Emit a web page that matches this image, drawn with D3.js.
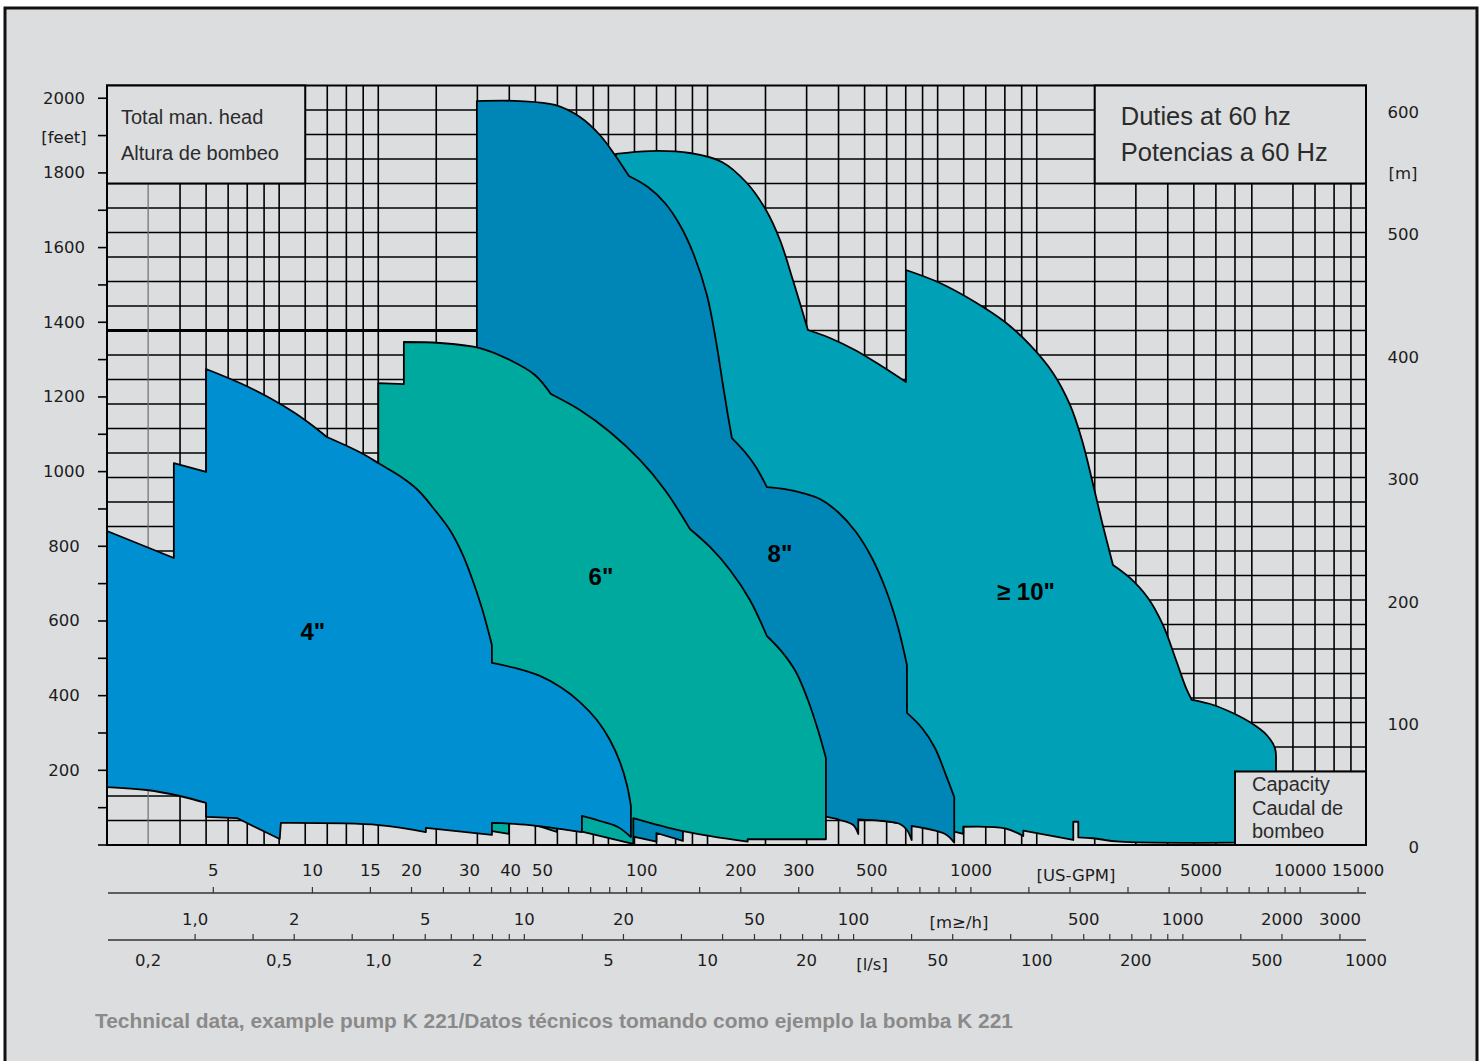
<!DOCTYPE html>
<html><head><meta charset="utf-8">
<script src="https://cdn.jsdelivr.net/npm/d3@7"></script>
<style>html,body{margin:0;padding:0;background:#fff;}svg{display:block;}</style>
</head><body>
<svg id="chart" width="1484" height="1061"></svg>
<script>
// ================= DATA =================
// flow in l/s, head in m (grid of the original chart)
const headGridM = d3.range(20, 601, 20);
const flowGridLs = [0.25,0.3,0.35,0.4,0.45,0.5,0.6,0.7,0.8,0.9,1,1.5,2,2.5,3,3.5,4,4.5,5,6,7,8,9,10,
  15,20,25,30,35,40,45,50,60,70,80,90,100,150,200,250,300,350,400,450,600,700,800,900];
const flowGridThin = [0.2];

const feetTicks = d3.range(0, 2001, 100);
const feetLabels = [2000,1800,1600,1400,1200,1000,800,600,400,200];
const meterLabels = [600,500,400,300,200,100,0];

const gpmTicks = [5,10,15,20,25,30,35,40,45,50,60,70,80,90,100,150,200,300,400,500,600,700,800,900,
  1000,1500,2000,3000,4000,5000,6000,7000,8000,9000,10000,15000];
const gpmLabels = [5,10,15,20,30,40,50,100,200,300,500,1000,5000,10000,15000];
const m3hTicks = [1,1.5,2,3,4,5,6,7,8,9,10,15,20,30,40,50,60,70,80,90,100,150,200,300,400,500,600,700,800,900,1000,1500,2000,3000];
const m3hLabels = [1,2,5,10,20,50,100,500,1000,2000,3000];
const m3hLabelText = ["1,0","2","5","10","20","50","100","500","1000","2000","3000"];
const lsLabels = [0.2,0.5,1,2,5,10,20,50,100,200,500,1000];
const lsLabelText = ["0,2","0,5","1,0","2","5","10","20","50","100","200","500","1000"];

// duty fields: outline points [flow l/s, head m, corner flag]
const pump4 = [[0.15,256.3,1],[0.2394,234.3,1],[0.2394,311.8,1],[0.30,304.5,1],[0.30,388.6,1],[0.380,377.1],[0.4685,364.9],
 [0.558,352.7],[0.628,342.9],[0.698,333.1,1],[0.792,326.5],[0.911,318.4],[1.011,311.0],[1.163,301.2],[1.319,289.8],
 [1.485,273.5],[1.650,257.1],[1.795,238.4],[1.924,218.0],[2.064,193.5],[2.214,163.3,1],[2.214,148.6,1],[2.600,144.5],
 [3.097,138.0],[3.612,128.2],[4.097,116.7],[4.613,102.0],[5.053,85.7],[5.420,67.8],[5.692,49.0],[5.853,31.8,1],
 [5.853,6.5,1],[5.344,14.7],[4.710,19.6],[4.155,23.7,1],[4.155,10.6,1],[2.887,16.3],[2.214,18.0,1],[2.214,8.2,1],
 [1.395,13.9,1],[1.395,10.6,1],[1.004,16.3],[0.506,18.0,1],[0.502,4.9,1],[0.372,22.0,1],[0.30,22.9,1],[0.30,34.3,1],
 [0.2496,40.0],[0.1982,44.9],[0.15,47.3,1]];
const pump6 = [[1.0,377.1,1],[1.196,376.3,1],[1.196,410.6,1],[1.539,409.8],[2.035,405.7],[2.511,395.9],[2.990,383.7],
 [3.345,368.2,1],[4.097,355.1],[5.053,337.1],[6.232,314.3],[7.424,289.8],[8.842,258.0,1],[10.17,243.3],[11.70,224.5],
 [13.45,200.0],[15.15,170.6,1],[16.83,157.6],[18.56,141.2],[20.18,118.4],[21.65,93.9],[22.89,71.0,1],[22.89,4.7,1],
 [13.24,4.7,1],[13.24,2.7,1],[8.42,11.4],[5.952,22.0,1],[5.952,1.4,1],[5.853,1.4,1],[4.155,10.9,1],[3.487,13.9,1],[3.487,10.6,1],
 [2.969,16.3],[2.493,18.0,1],[2.493,9.0,1],[2.214,11.4,1],[1.0,26.9,1]];
const pump8 = [[1.993,607.3,1],[2.692,607.3],[3.439,604.1],[4.097,594.3],[4.710,579.6],[5.232,563.3],[5.772,546.1,1],
 [6.592,537.1],[7.424,524.1],[8.244,506.1],[9.094,481.6],[9.958,449.0],[10.60,412.2],[11.14,375.5],[11.53,351.0],
 [11.86,332.2,1],[12.99,320.8],[14.03,308.6],[15.15,292.2,1],[17.19,290.6],[19.49,287.3],[21.95,282.4],[24.90,271.8],
 [28.24,255.5],[31.58,234.3],[34.84,208.2],[37.88,178.0],[40.34,146.9,1],[40.34,107.8,1],[44.80,95.5],[49.07,79.2],
 [52.99,57.1],[56.16,39.2,1],[56.16,1.9,1],[53.25,8.2],[48.39,12.2],[41.69,15.5,1],[41.69,4.1,1],[40.34,12.2],[38.41,17.1],
 [34.18,19.6],[28.70,21.0,1],[28.70,9.0,1],[27.71,16.3],[25.25,20.4],[22.89,23.1,1],[13.17,10.6,1],[8.42,15.5,1],[8.42,3.3,1],
 [6.995,9.8,1],[6.995,2.7,1],[5.952,6.8,1],[1.993,44.9,1]];
const pump10 = [[5.269,564.1,1],[6.683,566.5],[8.842,564.9],[11.06,557.6],[13.17,540.4],[15.05,518.4],[16.60,493.9],
 [18.17,461.2],[20.18,420.4,1],[23.54,413.9],[28.04,404.1],[33.40,391.8],[40.07,378.0,1],[40.07,469.4,1],[50.82,458.8],
 [64.91,443.3],[80.09,426.9],[95.35,408.2],[112.0,385.3],[126.2,359.2],[137.2,330.6],[147.2,298.0],[157.8,263.7],
 [170.4,228.6,1],[191.9,218.0],[217.7,201.6],[241.7,179.6],[264.8,151.0],[284.0,128.2],[295.6,118.4,1],[343.8,114.3],
 [395.4,107.5],[449.6,99.3],[499.2,89.8],[529.2,78.9],[532.9,69.4,1],[532.9,2.4,1],[178.9,2.7],[148.2,5.5],[133.7,6.3,1],
 [133.7,19.0,1],[129.1,19.0,1],[129.1,4.1,1],[91.0,11.7,1],[91.0,7.3,1],[80.09,13.6],[59.80,14.9,1],[59.80,9.0,1],[56.16,10.9,1],
 [22.89,26.9,1],[5.269,200,1]];

const fieldNames = ['≥ 10"', '8"', '6"', '4"'];
const fieldLabelFlow = [92.7, 16.6, 4.745, 0.633];
const fieldLabelHead = [207.3, 237.6, 218.8, 173.9];
const fieldColors = ['#00a0b6', '#0086b6', '#00a99d', '#008fd0'];

// ================= DRAW =================
const W = 1484, H = 1061, BG = '#dcdddf';
const svg = d3.select('#chart');
svg.append('rect').attr('width', W).attr('height', H).attr('fill', '#fff');
svg.append('rect').attr('x', 5).attr('y', 8).attr('width', 1472).attr('height', H + 10)
  .attr('fill', BG).attr('stroke', '#111').attr('stroke-width', 3);

const x = d3.scaleLog().domain([0.15, 1000]).range([107, 1366]);
const y = d3.scaleLinear().domain([0, 620]).range([845, 85.5]);
const yFt = ft => y(ft * 0.3048);
const xGpm = g => x(g / 15.85);
const xM3h = m => x(m / 3.6);

// grid
const grid = svg.append('g');
grid.selectAll('line.h').data(headGridM).join('line').attr('class', 'h')
  .attr('x1', x(0.15)).attr('x2', x(1000)).attr('y1', d => y(d)).attr('y2', d => y(d))
  .attr('stroke', '#000').attr('stroke-width', 1.6);
grid.append('line').attr('x1', x(0.15)).attr('x2', x(2)).attr('y1', y(420)).attr('y2', y(420))
  .attr('stroke', '#000').attr('stroke-width', 2.8);
grid.selectAll('line.v').data(flowGridLs).join('line').attr('class', 'v')
  .attr('x1', d => x(d)).attr('x2', d => x(d)).attr('y1', y(620)).attr('y2', y(0))
  .attr('stroke', '#000').attr('stroke-width', 1.6);
grid.selectAll('line.t').data(flowGridThin).join('line').attr('class', 't')
  .attr('x1', d => x(d)).attr('x2', d => x(d)).attr('y1', y(620)).attr('y2', y(0))
  .attr('stroke', '#6d6d6d').attr('stroke-width', 1.2);

// duty fields: smooth runs between corner points
const smooth = d3.line().x(d => x(d[0])).y(d => y(d[1])).curve(d3.curveCatmullRom.alpha(0.5));
function fieldPath(pts) {
  const runs = []; let cur = [pts[0]];
  for (let i = 1; i < pts.length; i++) {
    cur.push(pts[i]);
    if (pts[i][2] === 1) { runs.push(cur); cur = [pts[i]]; }
  }
  if (cur.length > 1) runs.push(cur);
  return runs.map((r, i) => {
    const s = smooth(r);
    return i === 0 ? s : s.replace(/^M[^A-Za-z]*/, '');
  }).join('') + 'Z';
}
const fields = [pump10, pump8, pump6, pump4];
svg.append('g').selectAll('path').data(fields).join('path')
  .attr('d', d => fieldPath(d))
  .attr('fill', (d, i) => fieldColors[i])
  .attr('stroke', '#000').attr('stroke-width', 1.8).attr('stroke-linejoin', 'round');

// plot frame
svg.append('rect').attr('x', x(0.15)).attr('y', y(620)).attr('width', x(1000) - x(0.15)).attr('height', y(0) - y(620))
  .attr('fill', 'none').attr('stroke', '#000').attr('stroke-width', 2);

// label boxes
function box(q0, q1, h0, h1) {
  svg.append('rect').attr('x', x(q0)).attr('y', y(h1)).attr('width', x(q1) - x(q0)).attr('height', y(h0) - y(h1))
    .attr('fill', BG).attr('stroke', '#000').attr('stroke-width', 2);
}
box(0.15, 0.6, 540, 620);
box(150, 1000, 540, 620);
box(400, 1000, 0, 60);

const sans = 'Liberation Sans, Arial, sans-serif';
function txt(t, px, py, size, opts = {}) {
  return svg.append('text').attr('x', px).attr('y', py).text(t)
    .attr('font-family', opts.family || sans).attr('font-size', size)
    .attr('font-weight', opts.weight || 'normal').attr('fill', opts.fill || '#2b2b2b')
    .attr('text-anchor', opts.anchor || 'start').attr('dominant-baseline', 'central');
}
txt('Total man. head', x(0.15) + 14, 117, 20);
txt('Altura de bombeo', x(0.15) + 14, 153, 20);
txt('Duties at 60 hz', x(150) + 26, 116, 25.5);
txt('Potencias a 60 Hz', x(150) + 26, 152, 25.5);
txt('Capacity', x(400) + 17, 784, 20);
txt('Caudal de', x(400) + 17, 808, 20);
txt('bombeo', x(400) + 17, 831, 20);

// field labels
fieldNames.forEach((n, i) => {
  txt(n, x(fieldLabelFlow[i]), y(fieldLabelHead[i]), 24, {weight: 'bold', anchor: 'middle', fill: '#000'});
});

// left axis (feet)
const axisFont = 'DejaVu Sans, sans-serif';
const axc = '#1c1c1c';
svg.append('g').selectAll('line').data(feetTicks).join('line')
  .attr('x1', 98).attr('x2', 107).attr('y1', d => yFt(d)).attr('y2', d => yFt(d))
  .attr('stroke', '#000').attr('stroke-width', 1.6);
feetLabels.forEach(v => txt(String(v), 64, yFt(v), 16.5, {family: axisFont, anchor: 'middle', fill: axc}));
txt('[feet]', 64, yFt(1900) + 2, 16.5, {family: axisFont, anchor: 'middle', fill: axc});

// right axis (m)
meterLabels.forEach(v => txt(String(v), 1419, y(v) + 2, 16.5, {family: axisFont, anchor: 'end', fill: axc}));
txt('[m]', 1403, y(550) + 2, 16.5, {family: axisFont, anchor: 'middle', fill: axc});

// bottom axes
const ax = svg.append('g');
function hAxis(yLine, ticks, fx) {
  ax.append('line').attr('x1', 108).attr('x2', 1366).attr('y1', yLine).attr('y2', yLine)
    .attr('stroke', '#333').attr('stroke-width', 1.3);
  ax.append('g').selectAll('line').data(ticks).join('line')
    .attr('x1', d => fx(d)).attr('x2', d => fx(d)).attr('y1', yLine).attr('y2', yLine - 6)
    .attr('stroke', '#333').attr('stroke-width', 1.2);
}
hAxis(893, gpmTicks, xGpm);
hAxis(940, m3hTicks, xM3h);
gpmLabels.forEach(v => txt(String(v), xGpm(v), 870, 16.5, {family: axisFont, anchor: 'middle', fill: axc}));
m3hLabels.forEach((v, i) => txt(m3hLabelText[i], xM3h(v), 919, 16.5, {family: axisFont, anchor: 'middle', fill: axc}));
lsLabels.forEach((v, i) => txt(lsLabelText[i], x(v), 960, 16.5, {family: axisFont, anchor: 'middle', fill: axc}));
txt('[US-GPM]', xGpm(2085), 875, 16.5, {family: axisFont, anchor: 'middle', fill: axc});
txt('[m≥/h]', xM3h(209), 922, 16.5, {family: axisFont, anchor: 'middle', fill: axc});
txt('[l/s]', x(31.6), 964, 16.5, {family: axisFont, anchor: 'middle', fill: axc});

// footer
txt('Technical data, example pump K 221/Datos técnicos tomando como ejemplo la bomba K 221', 95, 1021, 20,
  {weight: 'bold', fill: '#8a8a8a'}).attr('textLength', 918).attr('lengthAdjust', 'spacingAndGlyphs');
</script>
</body></html>
